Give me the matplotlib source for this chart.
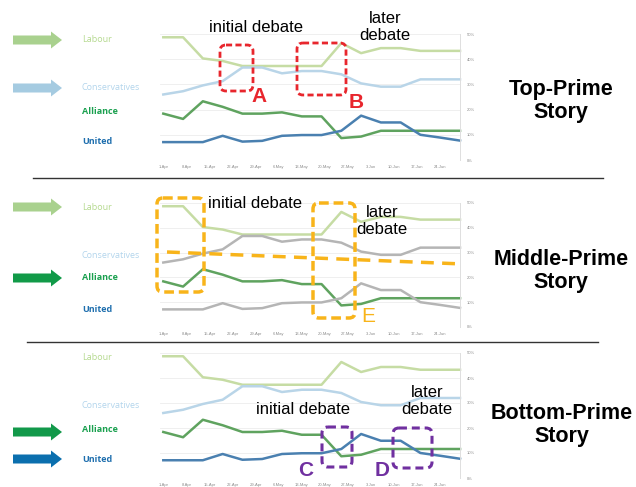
import matplotlib
matplotlib.use('Agg')
import matplotlib.pyplot as plt
from matplotlib.patches import FancyBboxPatch, FancyArrow, Rectangle

plt.rcParams['font.family'] = ['Liberation Sans', 'DejaVu Sans']

# poll data (days since 1-Apr, percent)
days = [0, 6, 12, 18, 24, 30, 36, 42, 48, 54, 60, 66, 72, 78, 84, 90]
labour = [48.7, 48.7, 40.3, 39.3, 37.3, 37.3, 37.3, 37.3, 37.3, 46.4, 42.4, 44.4, 44.4, 43.3, 43.3, 43.3]
conservatives = [26.0, 27.3, 29.6, 31.3, 36.7, 36.7, 34.4, 35.3, 35.3, 34.0, 30.4, 29.1, 29.1, 32.0, 32.0, 32.0]
alliance = [18.4, 16.3, 23.3, 21.1, 18.4, 18.4, 18.9, 17.3, 17.3, 8.7, 9.3, 11.6, 11.6, 11.6, 11.6, 11.6]
united = [7.1, 7.1, 7.1, 9.6, 7.3, 7.6, 9.6, 9.9, 9.9, 11.6, 17.6, 14.9, 14.9, 10.0, 8.9, 7.7]

tick_days = [0, 7, 14, 21, 28, 35, 42, 49, 56, 63, 70, 77, 84]
tick_labels = ['1-Apr', '8-Apr', '15-Apr', '22-Apr', '29-Apr', '6-May', '13-May',
               '20-May', '27-May', '3-Jun', '10-Jun', '17-Jun', '24-Jun']
pct_ticks = [0, 10, 20, 30, 40, 50]
parties = ['Labour', 'Conservatives', 'Alliance', 'United']
series = [labour, conservatives, alliance, united]

line_cols = ['#c6dca4', '#b9d5e8', '#5fa35f', '#4a80b0']
label_cols = ['#b5d98f', '#b3d5ec', '#1aa04f', '#1f6fae']
gray = '#b5b5b5'

W, H = 636, 487
fig = plt.figure(figsize=(W / 100, H / 100), dpi=100)


def px_axes(left, top, right, bottom):
    return fig.add_axes([left / W, 1 - bottom / H, (right - left) / W, (bottom - top) / H])


def draw_chart(top, bottom, colors):
    ax = px_axes(160, top, 460, bottom)
    for vals, c in zip(series, colors):
        ax.plot(days, vals, color=c, lw=1.8, solid_joinstyle='round', clip_on=False)
    ax.set_xlim(-1, 90)
    ax.set_ylim(0, 50)
    ax.set_xticks(tick_days)
    ax.set_xticklabels(tick_labels, fontsize=3, color='#8c8c8c')
    ax.yaxis.tick_right()
    ax.set_yticks(pct_ticks)
    ax.set_yticklabels([f'{v}%' for v in pct_ticks], fontsize=3, color='#8c8c8c')
    ax.tick_params(axis='x', length=0, pad=3.5)
    ax.tick_params(axis='y', length=0, pad=5)
    ax.grid(axis='y', color='#ececec', lw=0.6)
    ax.set_axisbelow(True)
    for s in ['top', 'left', 'bottom']:
        ax.spines[s].set_visible(False)
    ax.spines['right'].set_color('#dedede')
    ax.spines['right'].set_linewidth(0.7)
    return ax


draw_chart(34, 160, line_cols)
draw_chart(203, 327, [line_cols[0], gray, line_cols[2], gray])
draw_chart(353, 478, line_cols)

ov = fig.add_axes([0, 0, 1, 1], zorder=10)
ov.set_xlim(0, W)
ov.set_ylim(H, 0)
ov.axis('off')
ov.patch.set_alpha(0)

# separators
ov.plot([33, 603], [178, 178], color='#333333', lw=1)
ov.plot([27, 598], [342, 342], color='#333333', lw=1)

# party labels
label_ys = [[40, 88, 111, 141], [208, 255, 278, 309], [358, 406, 429, 459]]
for ys in label_ys:
    for i, (name, y) in enumerate(zip(parties, ys)):
        t = ov.text(82, y, name, fontsize=6.5, color=label_cols[i], va='center', ha='left',
                    family=['Open Sans', 'DejaVu Sans'],
                    fontweight='bold' if i >= 2 else 'normal')
        if ys is label_ys[0] and name == 'Conservatives':
            clip = Rectangle((0, 0), 141, H, transform=ov.transData)
            t.set_clip_path(clip)


def arrow(y, color):
    ov.add_patch(FancyArrow(13, y, 49, 0, width=9, head_width=17, head_length=11,
                            length_includes_head=True, color=color, lw=0))


arrow(40, '#a9d18e')
arrow(88, '#a5cbe1')
arrow(207, '#a9d18e')
arrow(278, '#119a48')
arrow(432, '#12994a')
arrow(459, '#0b6fae')


def dbox(x0, y0, x1, y1, color, lw, dash):
    ov.add_patch(FancyBboxPatch((x0, y0), x1 - x0, y1 - y0,
                                boxstyle='round,pad=0,rounding_size=6',
                                fc='none', ec=color, lw=lw, linestyle=(0, dash)))


red = '#e8262d'
orange = '#f8b41a'
purple = '#7030a0'

# top panel
ov.text(256, 27, 'initial debate', fontsize=12, ha='center', va='center')
ov.text(385, 27, 'later\ndebate', fontsize=12, ha='center', va='center')
dbox(220, 45, 253, 91, red, 2, (2.2, 1.2))
dbox(297, 43, 346, 95, red, 2, (2.2, 1.2))
ov.text(259, 97, 'A', fontsize=15, fontweight='bold', color=red, ha='center', va='center')
ov.text(356, 102, 'B', fontsize=15, fontweight='bold', color=red, ha='center', va='center')
ov.text(561, 101, 'Top-Prime\nStory', fontsize=15.5, fontweight='bold', ha='center', va='center',
        linespacing=1.1)

# middle panel
ov.text(255, 203, 'initial debate', fontsize=12, ha='center', va='center')
ov.text(382, 221, 'later\ndebate', fontsize=12, ha='center', va='center')
dbox(157, 198, 204, 292, orange, 2.5, (2.8, 1.4))
dbox(313, 203, 355, 318, orange, 2.5, (2.8, 1.4))
ov.plot([167, 463], [252, 264], color=orange, lw=2.5, linestyle=(0, (3.7, 2.4)))
ov.text(368, 316, 'E', fontsize=15, color=orange, ha='center', va='center')
ov.text(561, 271, 'Middle-Prime\nStory', fontsize=15.5, fontweight='bold', ha='center', va='center',
        linespacing=1.1)

# bottom panel
ov.text(303, 409, 'initial debate', fontsize=12, ha='center', va='center')
ov.text(427, 401, 'later\ndebate', fontsize=12, ha='center', va='center')
dbox(322, 427, 352, 467, purple, 2.2, (2.6, 1.6))
dbox(393, 428, 432, 468, purple, 2.2, (2.6, 1.6))
ov.text(306, 471, 'C', fontsize=15, fontweight='bold', color=purple, ha='center', va='center')
ov.text(382, 471, 'D', fontsize=15, fontweight='bold', color=purple, ha='center', va='center')
ov.text(562, 425, 'Bottom-Prime\nStory', fontsize=15.5, fontweight='bold', ha='center', va='center',
        linespacing=1.1)

fig.savefig('out.png', dpi=100)
